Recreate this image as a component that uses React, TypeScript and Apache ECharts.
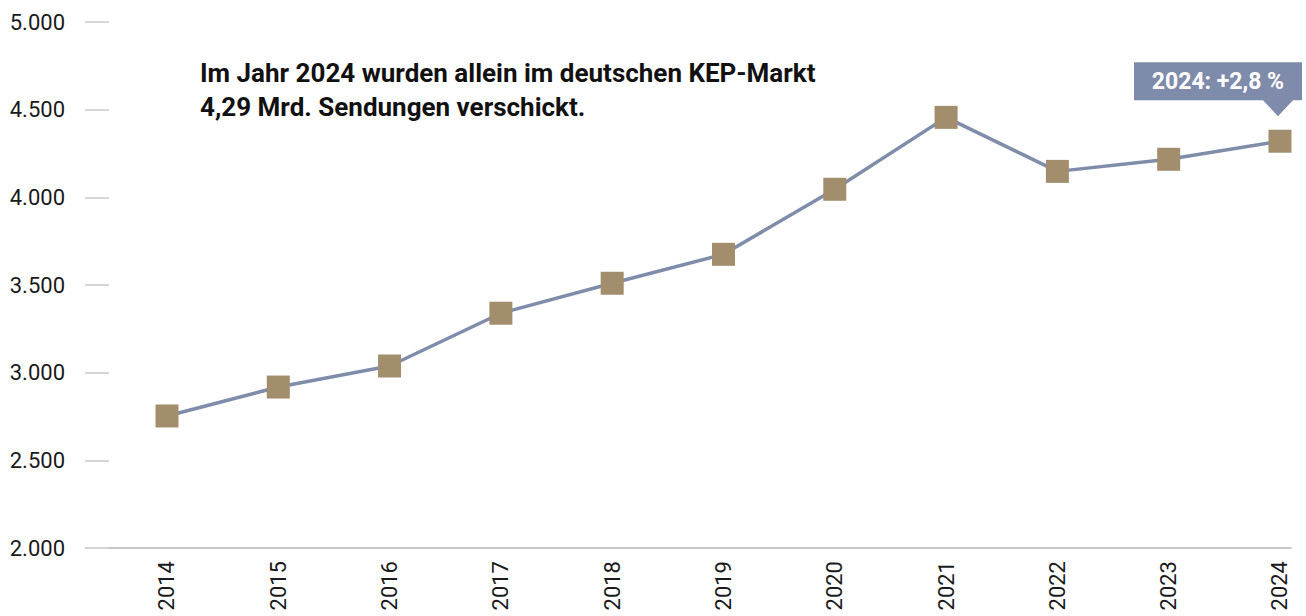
import React, { useEffect, useRef } from "react";
import * as echarts from "echarts";

const years = [2014, 2015, 2016, 2017, 2018, 2019, 2020, 2021, 2022, 2023, 2024];
const values = [2753, 2918, 3038, 3339, 3510, 3675, 4046, 4456, 4148, 4217, 4320];
const yTicks = [2000, 2500, 3000, 3500, 4000, 4500, 5000];
const headline = "Im Jahr 2024 wurden allein im deutschen KEP-Markt\n4,29 Mrd. Sendungen verschickt.";
const calloutText = "2024: +2,8 %";

const fmt = (v: number) => {
  const s = String(Math.round(v));
  return s.replace(/\B(?=(\d{3})+(?!\d))/g, ".");
};

export default function App() {
  const ref = useRef<HTMLDivElement>(null);
  useEffect(() => {
    document.body.style.margin = "0";
    if (!ref.current) return;
    const chart = echarts.init(ref.current, undefined, { renderer: "svg" });
    const font = "Roboto, 'Noto Sans', sans-serif";
    const last = years.length - 1;
    chart.setOption({
      animation: false,
      backgroundColor: "#ffffff",
      textStyle: { fontFamily: font },
      title: {
        text: headline,
        left: 195,
        top: 51,
        textStyle: { fontFamily: font, fontSize: 26, fontWeight: "bold", color: "#111111", lineHeight: 34 },
      },
      grid: { left: 109, right: 15, top: 22, bottom: 68, containLabel: false },
      xAxis: {
        type: "value",
        min: 2013.479,
        max: 2024.099,
        axisLine: { show: true, lineStyle: { color: "#c8c8c8", width: 2 } },
        axisTick: { show: false },
        splitLine: { show: false },
        axisLabel: {
          customValues: years,
          rotate: 90,
          margin: 13,
          fontSize: 22,
          color: "#1a1a1a",
          fontFamily: font,
          formatter: (v: number) => String(Math.round(v)),
        },
      },
      yAxis: {
        type: "value",
        min: yTicks[0],
        max: yTicks[yTicks.length - 1],
        interval: 500,
        axisLine: { show: false },
        axisTick: { show: true, length: 24, lineStyle: { color: "#c8c8c8", width: 1.5 } },
        splitLine: { show: false },
        axisLabel: {
          margin: 44,
          fontSize: 22,
          color: "#1a1a1a",
          fontFamily: font,
          formatter: (v: number) => fmt(v),
        },
      },
      series: [
        {
          type: "line",
          data: years.map((y, i) => [y, values[i]]),
          symbol: "rect",
          symbolSize: 23,
          itemStyle: { color: "#A28D6C" },
          lineStyle: { color: "#7F8CAA", width: 3.5 },
          markPoint: {
            silent: true,
            data: [
              {
                coord: [years[last], values[last]],
                symbol: "path://M0,0 H168 V38 H159 L144,54 L129,38 H0 Z",
                symbolSize: [168, 54],
                symbolOffset: [-62, -52],
                itemStyle: { color: "#7F8BAA" },
                label: {
                  show: true,
                  position: "inside",
                  offset: [0, -8],
                  formatter: calloutText,
                  color: "#ffffff",
                  fontSize: 23,
                  fontWeight: "bold",
                  fontFamily: font,
                },
              },
            ],
          },
        },
      ],
    });
    return () => chart.dispose();
  }, []);
  return <div ref={ref} style={{ width: 1306, height: 616 }} />;
}
